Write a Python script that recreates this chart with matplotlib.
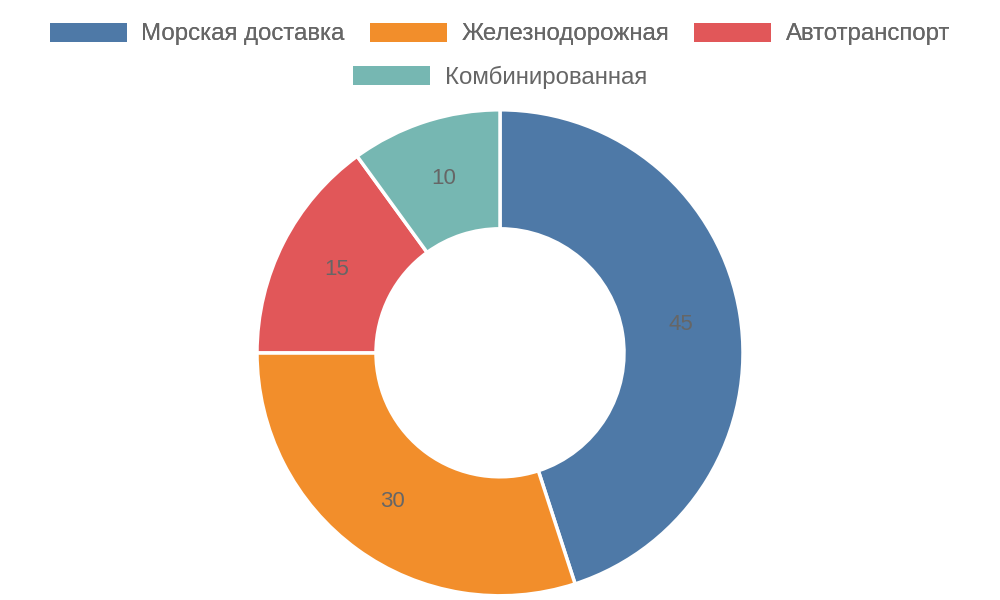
import matplotlib.pyplot as plt
from matplotlib.patches import Patch
import numpy as np

plt.rcParams['font.family'] = ['Liberation Sans', 'DejaVu Sans']

# ── Данные ────────────────────────────────────────────────
categorias = ['Морская доставка', 'Железнодорожная', 'Автотранспорт', 'Комбинированная']
valores = [45, 30, 15, 10]
colores = ['#4E79A7', '#F28E2B', '#E15759', '#76B7B2']

fig = plt.figure(figsize=(10, 6), dpi=100)
ax = fig.add_axes([0.5 - 0.243, 0.412 - 0.405, 0.486, 0.81])

r_in = 124 / 243
wedges, _ = ax.pie(
    valores, colors=colores, startangle=90, counterclock=False,
    wedgeprops=dict(width=1 - r_in, edgecolor='white', linewidth=2.5),
    radius=1,
)

# etiquetas de valor en el centro del anillo
r_mid = (1 + r_in) / 2
for w, v in zip(wedges, valores):
    ang = np.deg2rad((w.theta1 + w.theta2) / 2)
    ax.text(r_mid * np.cos(ang), r_mid * np.sin(ang), str(v),
            ha='center', va='center', fontsize=16, color='#666666')

ax.set_xlim(-1, 1)
ax.set_ylim(-1, 1)
ax.set_aspect('equal')
ax.axis('off')

# ── Leyenda en dos filas ──────────────────────────────────
handles = [Patch(facecolor=c) for c in colores]
leg_kw = dict(frameon=False, fontsize=17.3, labelcolor='#666666',
              handlelength=3.2, handleheight=0.85, handletextpad=0.6,
              columnspacing=1.05, borderpad=0, borderaxespad=0)
leg1 = fig.legend(handles[:3], categorias[:3], ncol=3, loc='center',
                  bbox_to_anchor=(0.5, 1 - 34 / 600), **leg_kw)
fig.add_artist(leg1)
fig.legend(handles[3:], categorias[3:], ncol=1, loc='center',
           bbox_to_anchor=(0.5, 1 - 77 / 600), **leg_kw)

fig.savefig('out.png', dpi=100)
